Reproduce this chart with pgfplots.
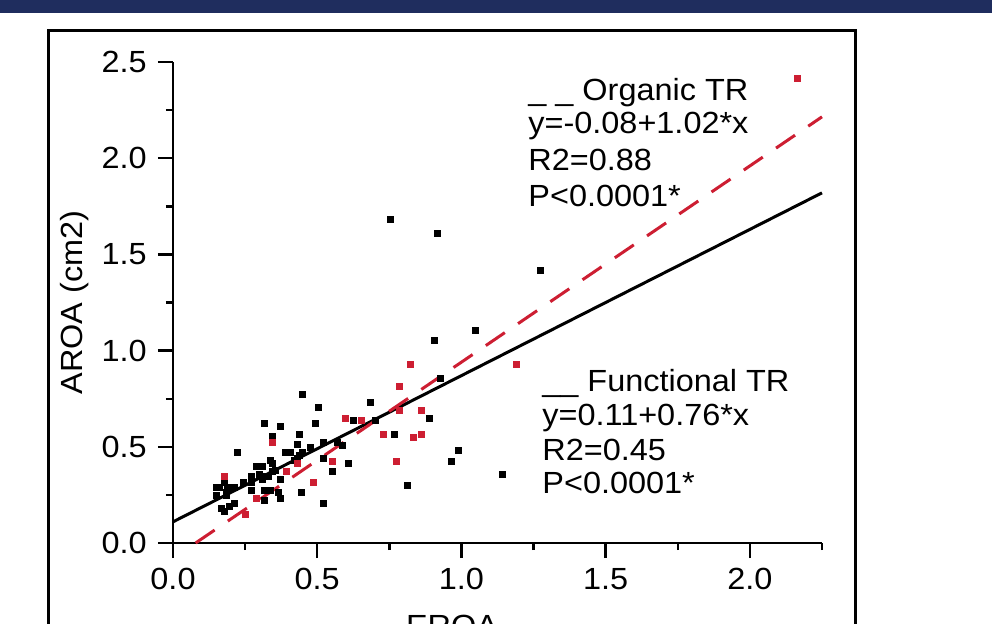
\documentclass[border=0pt]{standalone}
\usepackage{pgfplots}
\pgfplotsset{compat=1.18}
\usepackage{fontspec}
\setmainfont{Liberation Sans}
\definecolor{navy}{RGB}{31,45,94}
\definecolor{myred}{RGB}{205,30,50}
\newcommand\tf{\fontsize{15.3pt}{18pt}\selectfont}
\begin{document}
\tf
\begin{tikzpicture}
\useasboundingbox (0,0) rectangle (496pt,311.5pt);
\fill[navy] (-1pt,304.75pt) rectangle (497pt,313pt);
\draw[line width=1.5pt] (24pt,-10pt) -- (24pt,296.2pt) -- (427.5pt,296.2pt) -- (427.5pt,-10pt);
\begin{axis}[
  at={(86.5pt,40pt)}, anchor=south west,
  scale only axis, width=324.5pt, height=240.5pt,
  xmin=0, xmax=2.25, ymin=0, ymax=2.5,
  axis x line=bottom, axis y line=left,
  axis line style={-, line width=1.2pt, black},
  xtick={0,0.5,1,1.5,2}, ytick={0,0.5,1,1.5,2,2.5},
  minor xtick={0.25,0.75,1.25,1.75,2.25},
  minor ytick={0.25,0.75,1.25,1.75,2.25},
  tick align=outside, major tick length=7.5pt, minor tick length=3.5pt,
  every tick/.style={black, line width=1.2pt},
  /pgf/number format/assume math mode=true,
  xticklabel style={/pgf/number format/fixed, /pgf/number format/fixed zerofill, /pgf/number format/precision=1},
  yticklabel style={/pgf/number format/fixed, /pgf/number format/fixed zerofill, /pgf/number format/precision=1},
  tick label style={font=\tf, xscale=1.06},
  label style={font=\tf},
  xlabel={EROA},
  xlabel style={at={(axis description cs:0.43,-0.1497)}, anchor=north, inner sep=0pt, xscale=1.06},
  ylabel={AROA (cm2)},
  ylabel style={at={(axis description cs:-0.1402,0.5)}, anchor=base, inner sep=0pt, xscale=1.06},
  clip=false,
]
\addplot[only marks, mark=square*, mark size=1.5pt, color=black] coordinates {
(0.753,1.684) (0.915,1.609) (1.273,1.416) (1.047,1.107) (0.907,1.051)
(0.927,0.858) (0.889,0.650) (0.991,0.483) (0.964,0.426) (1.141,0.357)
(0.814,0.301) (0.683,0.733) (0.626,0.636) (0.701,0.636) (0.766,0.565)
(0.569,0.525) (0.589,0.509) (0.608,0.413) (0.551,0.372) (0.448,0.774)
(0.505,0.705) (0.317,0.622) (0.373,0.608) (0.495,0.622) (0.439,0.567)
(0.345,0.552) (0.430,0.511) (0.523,0.525) (0.477,0.496) (0.223,0.469)
(0.389,0.469) (0.406,0.469) (0.448,0.469) (0.439,0.456) (0.430,0.442)
(0.420,0.428) (0.523,0.442) (0.336,0.428) (0.345,0.414) (0.290,0.400)
(0.309,0.400) (0.355,0.379) (0.299,0.359) (0.318,0.345) (0.330,0.345)
(0.309,0.331) (0.273,0.345) (0.273,0.317) (0.244,0.317) (0.373,0.331)
(0.177,0.317) (0.149,0.290) (0.160,0.290) (0.188,0.290) (0.214,0.290)
(0.186,0.261) (0.149,0.248) (0.186,0.248) (0.273,0.275) (0.318,0.275)
(0.336,0.275) (0.364,0.261) (0.373,0.234) (0.317,0.220) (0.446,0.261)
(0.523,0.206) (0.168,0.178) (0.177,0.165) (0.195,0.192) (0.214,0.206)
(0.346,0.373)
};
\addplot[only marks, mark=square*, mark size=1.5pt, color=myred] coordinates {
(2.163,2.417) (0.823,0.927) (1.189,0.928) (0.785,0.816) (0.786,0.690)
(0.861,0.690) (0.598,0.650) (0.654,0.636) (0.729,0.565) (0.832,0.551)
(0.861,0.565) (0.551,0.426) (0.775,0.426) (0.345,0.525) (0.430,0.414)
(0.392,0.373) (0.486,0.317) (0.289,0.234) (0.177,0.345) (0.252,0.151)
};
\addplot[black, line width=1.5pt, no marks] coordinates {(0,0.11) (2.25,1.82)};
\addplot[myred, line width=1.5pt, no marks, dash pattern=on 11.5pt off 8pt] coordinates {(0.0784,0) (2.25,2.215)};
\end{axis}
\begin{scope}[every node/.style={anchor=base west, inner sep=0pt, xscale=1.06}]
\node at (264pt,261.2pt) {\_ \_ Organic TR};
\node at (264pt,244.5pt) {y=-0.08+1.02*x};
\node at (264pt,226pt) {R2=0.88};
\node at (264pt,208.2pt) {P<0.0001*};
\node at (271pt,116pt) {\_\_ Functional TR};
\node at (271pt,99pt) {y=0.11+0.76*x};
\node at (271pt,81.25pt) {R2=0.45};
\node at (271pt,65pt) {P<0.0001*};
\end{scope}
\end{tikzpicture}
\end{document}
